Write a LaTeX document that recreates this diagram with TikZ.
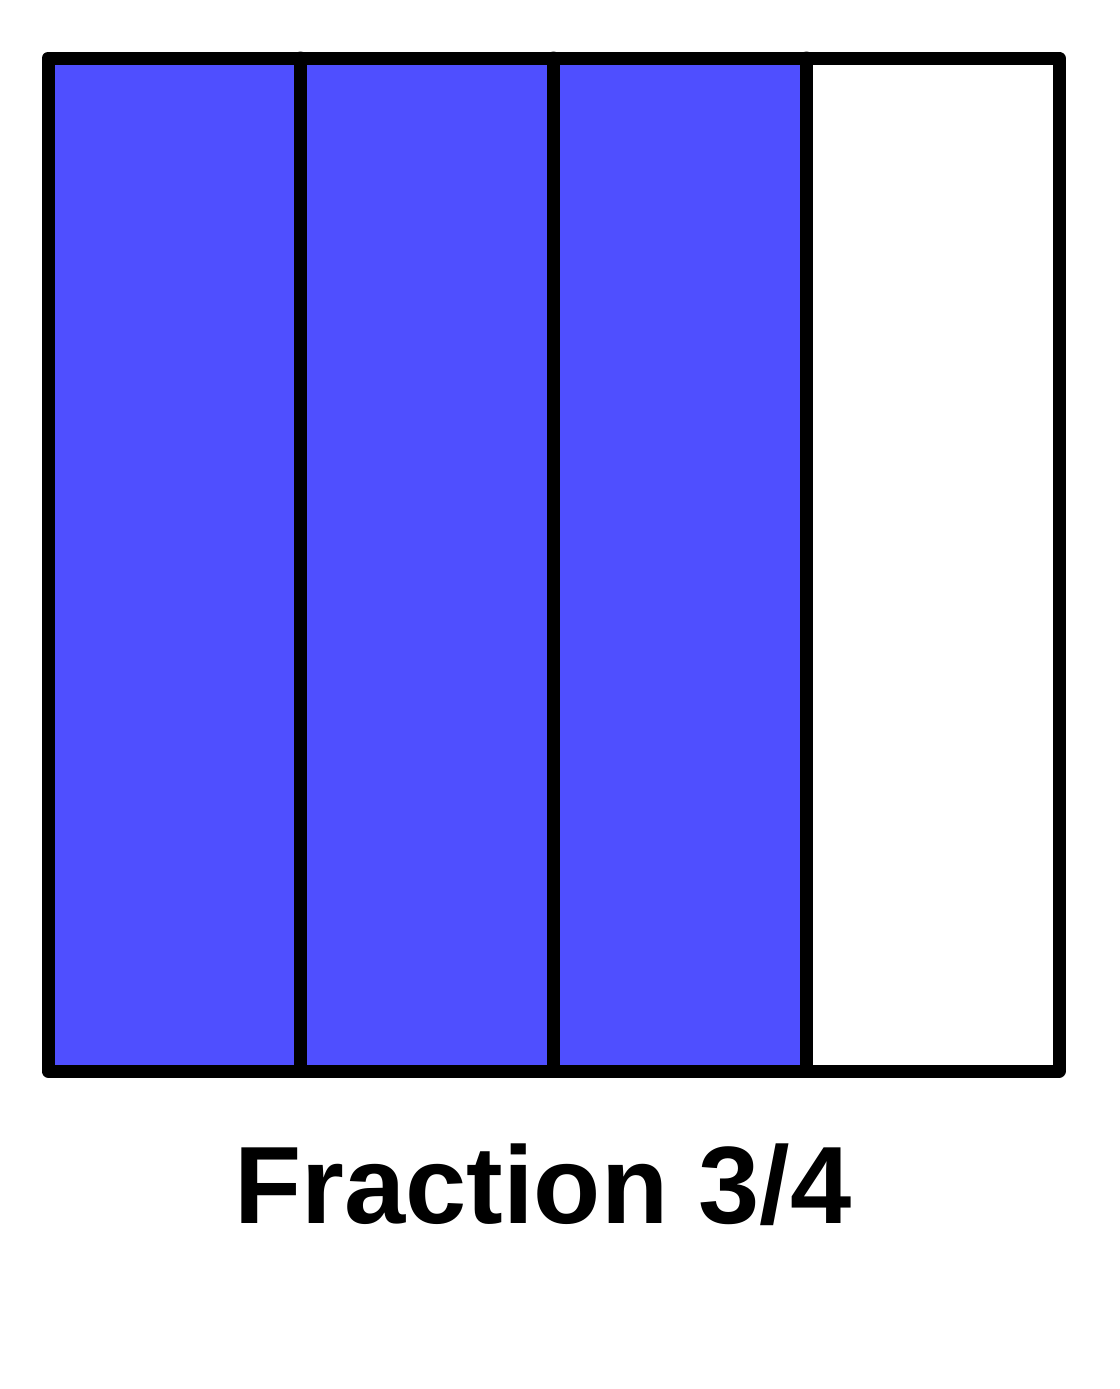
\documentclass[tikz,border=0pt]{standalone}
\usepackage{fontspec}
\setmainfont{Liberation Sans}
\usetikzlibrary{calc}

\definecolor{azul}{RGB}{79,79,255}

\begin{document}
\begin{tikzpicture}[
    x=0.5pt,
    y=-0.5pt,
    line join=round,
    line cap=round,
    borde/.style={line width=6.5pt},
    relleno/.style={fill=azul},
    rotulo/.style={font=\bfseries\fontsize{55}{60}\selectfont, inner sep=0pt, anchor=base}
]

\useasboundingbox[fill=white] (0,0) rectangle (1120,1389);

\coordinate (SI) at (48,58);
\coordinate (ID) at (1059,1071);

% partes sombreadas
\foreach \k in {0,1,2}{
  \fill[relleno] ({48+252.75*\k},58) rectangle ({48+252.75*(\k+1)},1071);
}

\draw[borde] (SI) rectangle (ID);
\foreach \k in {1,2,3}{
  \draw[borde] ({48+252.75*\k},58) -- ({48+252.75*\k},1071);
}

\node[rotulo] (titulo) at (543,1223) {Fraction 3/4};

\end{tikzpicture}
\end{document}
